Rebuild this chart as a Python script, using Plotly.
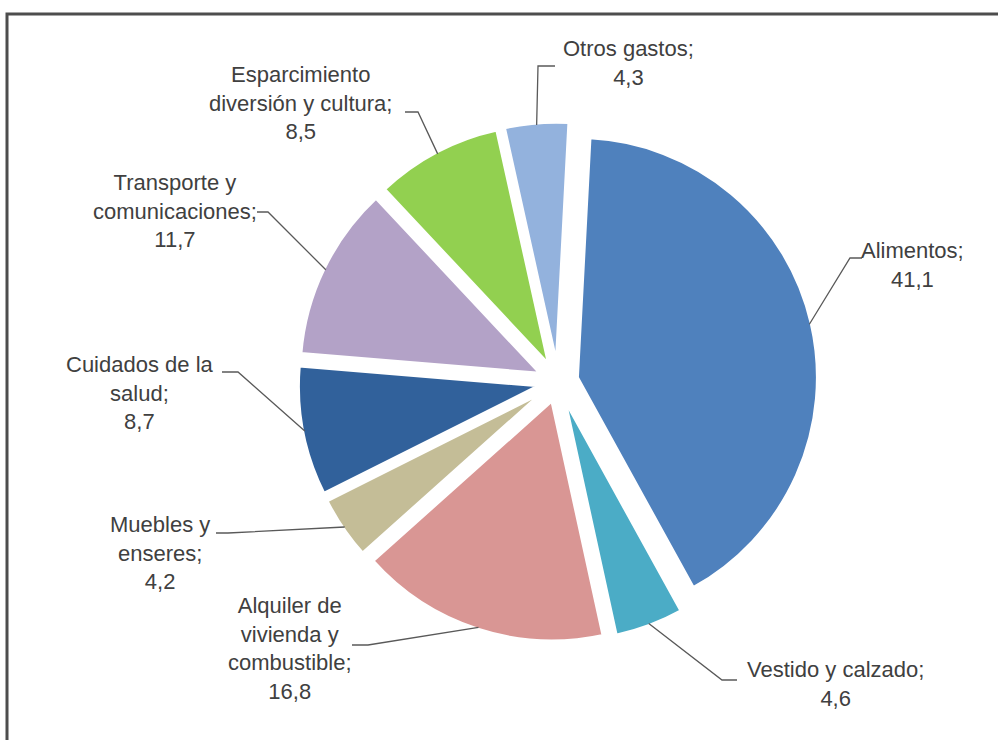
import math
import plotly.graph_objects as go

# ---------------- data ----------------
categories = [
    "Alimentos",
    "Vestido y calzado",
    "Alquiler de vivienda y combustible",
    "Muebles y enseres",
    "Cuidados de la salud",
    "Transporte y comunicaciones",
    "Esparcimiento diversión y cultura",
    "Otros gastos",
]
values = [41.1, 4.6, 16.8, 4.2, 8.7, 11.7, 8.5, 4.3]
label_lines = [
    ["Alimentos;"],
    ["Vestido y calzado;"],
    ["Alquiler de", "vivienda y", "combustible;"],
    ["Muebles y", "enseres;"],
    ["Cuidados de la", "salud;"],
    ["Transporte y", "comunicaciones;"],
    ["Esparcimiento", "diversión y cultura;"],
    ["Otros gastos;"],
]
colors = ["#4F81BD", "#4BACC6", "#D99694", "#C4BD97",
          "#31619B", "#B3A2C7", "#92D050", "#93B2DD"]

# ---------------- layout (pixels) ----------------
W, H = 998, 740
CX, CY = 558, 382          # pie centre
R = 240                    # pie radius
PULL = 0.083
ROT = 3
D = 2 * R * (1 + PULL)

# label centre, leader start, leader elbow (pixels)
label_pos = [
    ((912, 265), (862, 258), (850, 258)),
    ((835, 684), (737, 680), (722, 680)),
    ((290, 648), (352, 645), (368, 645)),
    ((160, 553), (216, 533), (228, 533)),
    ((140, 393), (222, 372), (238, 372)),
    ((175, 211), (257, 212), (268, 212)),
    ((300, 103), (405, 112), (418, 112)),
    ((628, 63), (555, 66), (538, 66)),
]


def px(x, y):
    return x / W, 1 - y / H


fig = go.Figure(go.Pie(
    labels=categories,
    values=values,
    sort=False,
    direction="clockwise",
    rotation=ROT,
    pull=PULL,
    marker=dict(colors=colors, line=dict(color="white", width=3)),
    textinfo="none",
    showlegend=False,
    domain=dict(x=[(CX - D / 2) / W, (CX + D / 2) / W],
                y=[(H - CY - D / 2) / H, (H - CY + D / 2) / H]),
))

total = sum(values)
cum = 0.0
annotations = []
shapes = []
for i, v in enumerate(values):
    ang = math.radians(ROT + 360 * (cum + v / 2) / total)
    cum += v
    s, c = math.sin(ang), -math.cos(ang)
    pcx, pcy = CX + PULL * R * s, CY + PULL * R * c
    ex, ey = pcx + (R - 2) * s, pcy + (R - 2) * c
    (tx, ty), (sx, sy), (bx, by) = label_pos[i]
    txt = "<br>".join(label_lines[i] + [f"{v:.1f}".replace(".", ",")])
    ax, ay = px(tx, ty)
    annotations.append(dict(text=txt, x=ax, y=ay, xref="paper", yref="paper",
                            xanchor="center", yanchor="middle", showarrow=False,
                            align="center",
                            font=dict(family="Liberation Sans, Arial, sans-serif",
                                      size=22, color="#404040")))
    p1, p2, p3 = px(sx, sy), px(bx, by), px(ex, ey)
    shapes.append(dict(type="path", xref="paper", yref="paper",
                       path=f"M {p1[0]},{p1[1]} L {p2[0]},{p2[1]} L {p3[0]},{p3[1]}",
                       line=dict(color="#595959", width=1.3)))

# outer frame
f0 = px(7, 14)
f1 = px(1010, 760)
shapes.append(dict(type="rect", xref="paper", yref="paper",
                   x0=f0[0], y0=f0[1], x1=f1[0], y1=f1[1],
                   line=dict(color="#4d4d4d", width=3)))

fig.update_layout(
    width=W, height=H,
    margin=dict(l=0, r=0, t=0, b=0),
    paper_bgcolor="white", plot_bgcolor="white",
    annotations=annotations, shapes=shapes,
)
fig.write_html("out.html")
